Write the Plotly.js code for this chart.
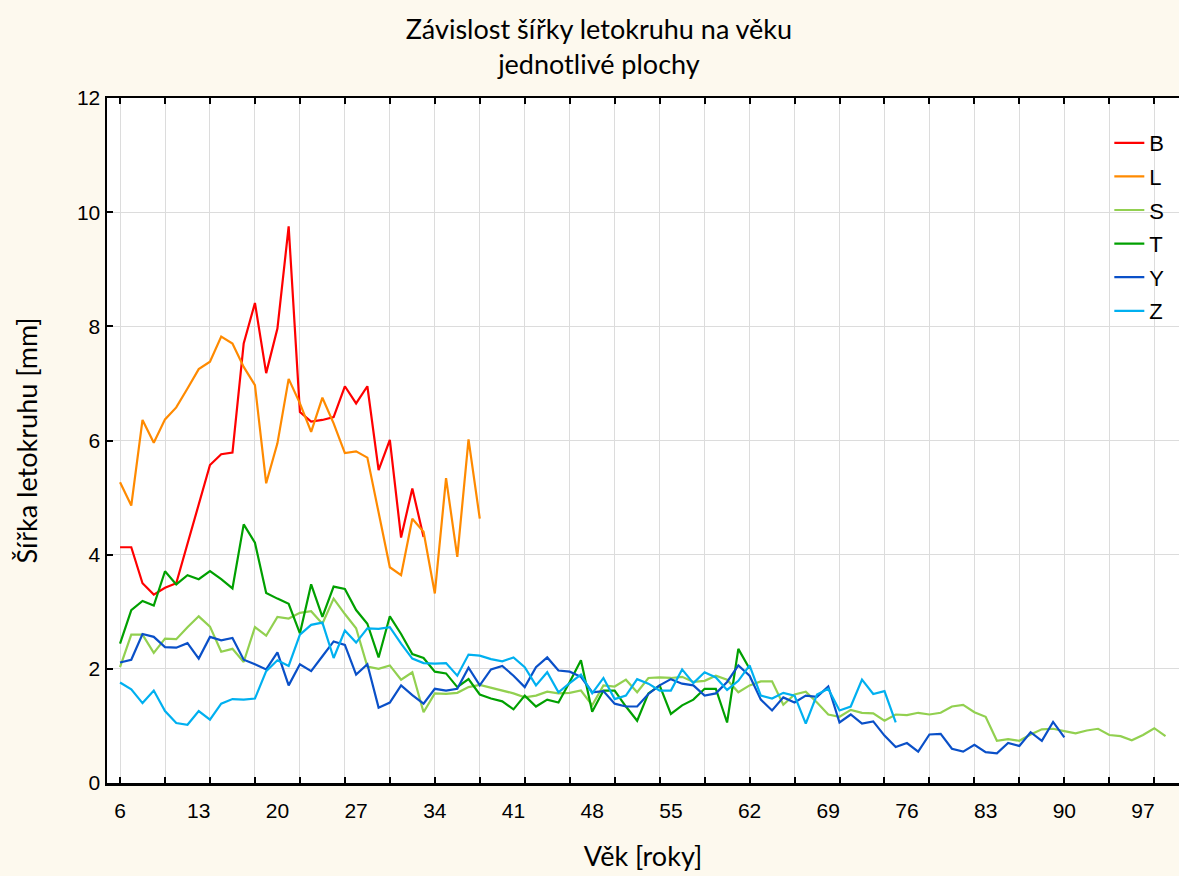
<!DOCTYPE html>
<html>
<head>
<meta charset="utf-8">
<script src="https://cdn.plot.ly/plotly-3.0.1.min.js"></script>
<style>html,body{margin:0;padding:0;background:#fdf9ee;}</style>
</head>
<body>
<div id="chart" style="width:1179px;height:876px;"></div>
<script>
// Age (years) - x categories
const ages = [6,7,8,9,10,11,12,13,14,15,16,17,18,19,20,21,22,23,24,25,26,27,28,29,30,31,32,33,34,35,36,37,38,39,40,41,42,43,44,45,46,47,48,49,50,51,52,53,54,55,56,57,58,59,60,61,62,63,64,65,66,67,68,69,70,71,72,73,74,75,76,77,78,79,80,81,82,83,84,85,86,87,88,89,90,91,92,93,94,95,96,97,98,99];

// Ring width [mm] per plot, starting at age 6
const B = [4.13,4.13,3.50,3.30,3.42,3.50,4.19,4.87,5.57,5.76,5.79,7.70,8.41,7.18,7.96,9.75,6.50,6.33,6.36,6.41,6.95,6.65,6.95,5.48,6.01,4.30,5.16,4.31];
const L = [5.27,4.86,6.36,5.96,6.37,6.58,6.91,7.25,7.38,7.82,7.70,7.29,6.97,5.25,5.95,7.08,6.65,6.15,6.75,6.30,5.78,5.81,5.70,4.72,3.78,3.64,4.63,4.40,3.32,5.34,3.96,6.02,4.63];
const S = [2.03,2.60,2.60,2.28,2.53,2.52,2.73,2.92,2.74,2.30,2.35,2.12,2.73,2.58,2.91,2.88,2.98,3.01,2.79,3.23,2.96,2.71,2.04,2.00,2.06,1.81,1.94,1.24,1.57,1.56,1.58,1.68,1.72,1.67,1.63,1.57,1.50,1.53,1.60,1.57,1.58,1.62,1.36,1.71,1.69,1.81,1.59,1.84,1.85,1.84,1.86,1.77,1.79,1.88,1.81,1.59,1.71,1.78,1.78,1.37,1.55,1.60,1.41,1.20,1.16,1.28,1.23,1.22,1.09,1.20,1.19,1.23,1.20,1.23,1.34,1.37,1.24,1.16,0.74,0.77,0.74,0.85,0.94,0.95,0.91,0.87,0.92,0.95,0.84,0.82,0.75,0.84,0.96,0.82];
const T = [2.44,3.03,3.19,3.11,3.71,3.48,3.64,3.57,3.71,3.57,3.41,4.53,4.21,3.33,3.23,3.14,2.62,3.48,2.91,3.44,3.40,3.03,2.79,2.20,2.92,2.61,2.26,2.19,1.95,1.92,1.68,1.82,1.55,1.48,1.43,1.29,1.53,1.34,1.46,1.41,1.77,2.15,1.25,1.62,1.62,1.34,1.09,1.57,1.71,1.21,1.36,1.46,1.65,1.65,1.06,2.35,2.00];
const Y = [2.11,2.16,2.61,2.56,2.38,2.37,2.45,2.18,2.56,2.50,2.54,2.16,2.08,1.99,2.29,1.71,2.08,1.96,2.22,2.48,2.42,1.90,2.08,1.32,1.41,1.71,1.54,1.39,1.65,1.62,1.65,2.02,1.71,1.99,2.05,1.88,1.68,2.03,2.20,1.97,1.95,1.86,1.59,1.61,1.39,1.34,1.34,1.56,1.71,1.82,1.74,1.71,1.53,1.57,1.77,2.06,1.88,1.46,1.27,1.50,1.41,1.53,1.51,1.69,1.06,1.20,1.04,1.08,0.83,0.63,0.70,0.55,0.85,0.86,0.60,0.55,0.67,0.54,0.52,0.70,0.65,0.89,0.74,1.07,0.80];
const Z = [1.76,1.64,1.40,1.62,1.26,1.05,1.02,1.26,1.11,1.39,1.47,1.46,1.48,1.96,2.15,2.05,2.60,2.77,2.81,2.19,2.67,2.46,2.71,2.70,2.73,2.44,2.18,2.10,2.09,2.10,1.88,2.25,2.23,2.17,2.13,2.20,2.03,1.71,1.94,1.59,1.75,1.90,1.57,1.84,1.47,1.53,1.82,1.74,1.62,1.62,1.99,1.75,1.94,1.85,1.63,1.79,2.06,1.53,1.48,1.58,1.53,1.04,1.55,1.65,1.27,1.34,1.81,1.56,1.61,1.06];

const seriesNames = ['B','L','S','T','Y','Z'];
const seriesData = [B, L, S, T, Y, Z];
const seriesColors = ['#ff0000','#ff8a00','#92d050','#00a000','#0a50c8','#00b0f0'];

// Axis ticks
const xGridVals = [6,10,14,18,22,26,30,34,38,42,46,50,54,58,62,66,70,74,78,82,86,90,94,98];
const xLabelVals = [6,13,20,27,34,41,48,55,62,69,76,83,90,97];
const xLabelText = ['6','13','20','27','34','41','48','55','62','69','76','83','90','97'];

const traces = seriesNames.map((n, i) => ({
  type: 'scatter', mode: 'lines', name: n, legendgroup: n,
  x: ages.slice(0, seriesData[i].length), y: seriesData[i],
  line: {color: seriesColors[i], width: 2.2}
}));
// empty helper trace so that the label axis (x2) is drawn
traces.push({type: 'scatter', mode: 'lines', x: [], y: [], xaxis: 'x2', yaxis: 'y',
             showlegend: false, hoverinfo: 'skip'});

const tickFont = {family: 'Liberation Sans, Arial, sans-serif', size: 21, color: '#000'};
const titleFont = {family: 'Lato, sans-serif', size: 27, color: '#000'};
const xr = [4.84, 100.2];

const layout = {
  width: 1179, height: 876,
  margin: {l: 107, r: 0, t: 98, b: 93, pad: 0},
  paper_bgcolor: '#fdf9ee', plot_bgcolor: '#ffffff',
  title: {text: 'Závislost šířky letokruhu na věku<br>jednotlivé plochy', font: titleFont,
          xref: 'container', x: 0.508, xanchor: 'center', yref: 'container', y: 0.956, yanchor: 'top'},
  showlegend: true,
  legend: {x: 0.935, y: 0.965, xanchor: 'left', yanchor: 'top', bgcolor: 'rgba(0,0,0,0)',
           font: {family: 'Liberation Sans, Arial, sans-serif', size: 22, color: '#000'},
           traceorder: 'grouped', tracegroupgap: 2},
  xaxis: {range: xr, tickmode: 'array', tickvals: xGridVals, showticklabels: false,
          ticks: 'inside', ticklen: 6, tickwidth: 2, tickcolor: '#000',
          showline: true, linewidth: 2.5, linecolor: '#000', mirror: 'ticks',
          showgrid: true, gridcolor: '#dcdcdc', gridwidth: 1, zeroline: false},
  xaxis2: {range: xr, overlaying: 'x', anchor: 'y', side: 'bottom', tickmode: 'array',
           tickvals: xLabelVals, ticktext: xLabelText, ticks: '', showgrid: false, showline: false,
           zeroline: false, tickfont: tickFont, ticklabelstandoff: 13,
           title: {text: 'Věk [roky]', font: titleFont, standoff: 26}},
  yaxis: {range: [0, 12], tick0: 0, dtick: 2, ticks: 'inside', ticklen: 6, tickwidth: 2, tickcolor: '#000',
          showline: true, linewidth: 2.5, linecolor: '#000',
          showgrid: true, gridcolor: '#dcdcdc', gridwidth: 1, zeroline: false,
          tickfont: tickFont, ticklabelstandoff: 0,
          title: {text: 'Šířka letokruhu [mm]', font: titleFont, standoff: 32}}
};

Plotly.newPlot('chart', traces, layout, {displayModeBar: false, staticPlot: true});
</script>
</body>
</html>
